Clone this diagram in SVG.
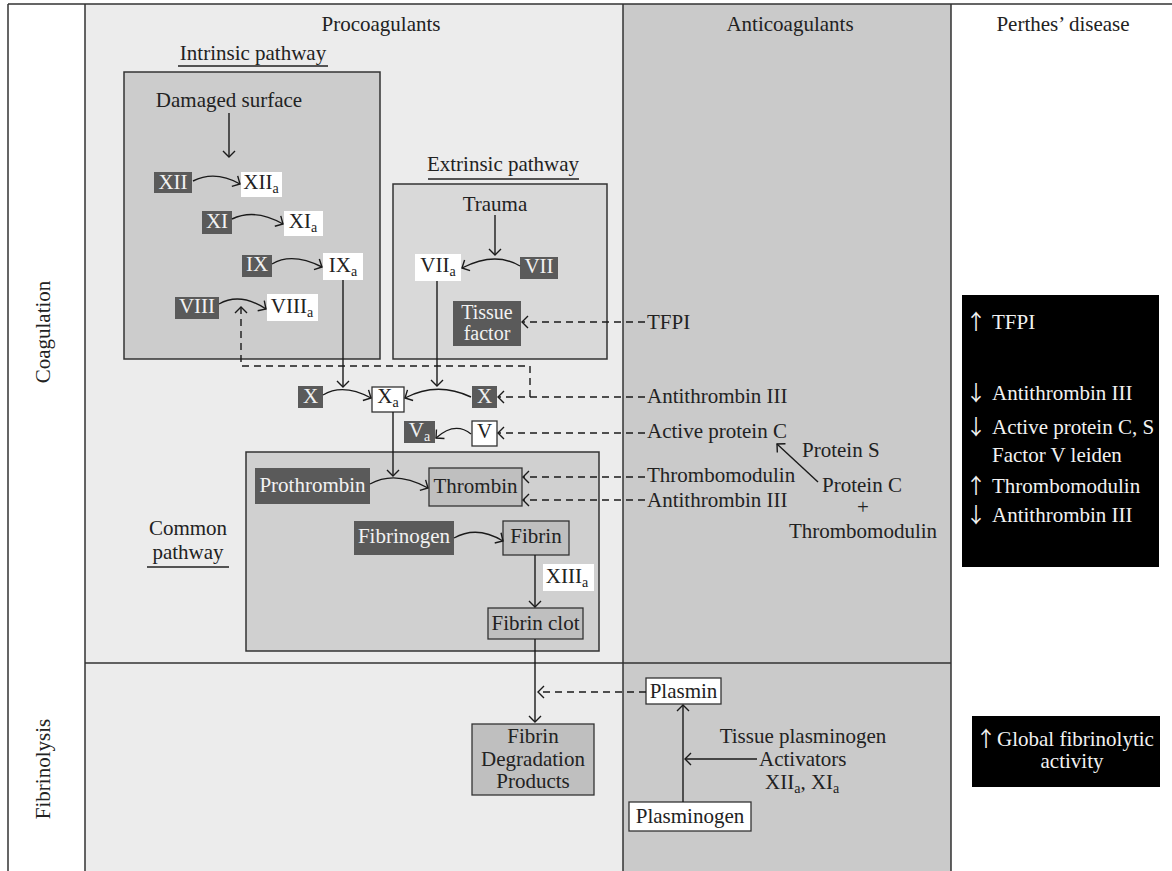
<svg xmlns="http://www.w3.org/2000/svg" width="1172" height="871" viewBox="0 0 1172 871">
<style>
.t{font-family:"Liberation Serif","Times New Roman",serif;font-size:21px;fill:#222}
.ar{font-family:"Noto Sans CJK JP","DejaVu Sans",sans-serif;font-size:21px;fill:#f2f2f2}
.w{fill:#f2f2f2}
.sub{font-size:14px}
.dk{fill:#5a5a5a}
.wn{fill:#fff}
.wb{fill:#fff;stroke:#333;stroke-width:1.3}
.gb{fill:#bfbfbf;stroke:#333;stroke-width:1.3}
.frame{stroke:#333;stroke-width:1.5;fill:none}
.c{fill:none;stroke:#1a1a1a;stroke-width:1.4}
.d{stroke-dasharray:7 5}
.u{stroke:#222;stroke-width:1.5}
</style>
<defs>
<marker id="ah" markerUnits="userSpaceOnUse" markerWidth="20" markerHeight="20" viewBox="-10 -10 20 20" refX="0" refY="0" orient="auto">
<path d="M-6,-6 L0,0 L-6,6" fill="none" stroke="#1a1a1a" stroke-width="1.4"/>
</marker>
</defs>

<g id="background">
<rect x="85" y="4" width="538" height="867" fill="#ececec"/>
<rect x="623" y="4" width="328" height="867" fill="#cacaca"/>
<path class="frame" d="M8,4 H1172 M8,4 V871 M85,4 V871 M623,4 V871 M951,4 V871 M85,663 H951"/>
<text class="t" x="381" y="31" text-anchor="middle">Procoagulants</text>
<text class="t" x="790" y="31" text-anchor="middle">Anticoagulants</text>
<text class="t" x="1063" y="31" text-anchor="middle">Perthes’ disease</text>
<text class="t" transform="translate(50,332) rotate(-90)" text-anchor="middle">Coagulation</text>
<text class="t" transform="translate(50,769) rotate(-90)" text-anchor="middle">Fibrinolysis</text>
</g>

<g id="intrinsic">
<rect x="124" y="72" width="256" height="287" fill="#cccccc" stroke="#333" stroke-width="1.5"/>
<text class="t" x="253" y="60" text-anchor="middle">Intrinsic pathway</text>
<line class="u" x1="178" y1="66" x2="328" y2="66"/>
<text class="t" x="229" y="107" text-anchor="middle">Damaged surface</text>
</g>

<g id="extrinsic">
<rect x="393" y="184" width="214" height="175" fill="#d9d9d9" stroke="#333" stroke-width="1.5"/>
<text class="t" x="503" y="171" text-anchor="middle">Extrinsic pathway</text>
<line class="u" x1="428" y1="179" x2="579" y2="179"/>
<text class="t" x="495" y="211" text-anchor="middle">Trauma</text>
</g>

<g id="common">
<rect x="246" y="452" width="353" height="199" fill="#d0d0d0" stroke="#333" stroke-width="1.5"/>
<text class="t" x="188" y="535" text-anchor="middle">Common</text>
<text class="t" x="188" y="559" text-anchor="middle">pathway</text>
<line class="u" x1="147" y1="567" x2="229" y2="567"/>
</g>

<g id="n-xii"><rect class="dk" x="154" y="172" width="38" height="21"/><text class="t w" x="173" y="189" text-anchor="middle">XII</text></g>
<g id="n-xiia"><rect class="wn" x="241" y="172" width="41" height="25"/><text class="t" x="261" y="189" text-anchor="middle">XII<tspan class="sub" dy="4">a</tspan></text></g>
<g id="n-xi"><rect class="dk" x="202" y="211" width="30" height="23"/><text class="t w" x="217" y="228" text-anchor="middle">XI</text></g>
<g id="n-xia"><rect class="wn" x="284" y="211" width="39" height="25"/><text class="t" x="303" y="228" text-anchor="middle">XI<tspan class="sub" dy="4">a</tspan></text></g>
<g id="n-ix"><rect class="dk" x="242" y="255" width="30" height="22"/><text class="t w" x="257" y="271" text-anchor="middle">IX</text></g>
<g id="n-ixa"><rect class="wn" x="323" y="253" width="40" height="27"/><text class="t" x="343" y="272" text-anchor="middle">IX<tspan class="sub" dy="4">a</tspan></text></g>
<g id="n-viii"><rect class="dk" x="175" y="297" width="44" height="22"/><text class="t w" x="197" y="313" text-anchor="middle">VIII</text></g>
<g id="n-viiia"><rect class="wn" x="267" y="294" width="51" height="27"/><text class="t" x="292" y="313" text-anchor="middle">VIII<tspan class="sub" dy="4">a</tspan></text></g>
<g id="n-viia"><rect class="wn" x="415" y="254" width="46" height="27"/><text class="t" x="438" y="272" text-anchor="middle">VII<tspan class="sub" dy="4">a</tspan></text></g>
<g id="n-vii"><rect class="dk" x="520" y="257" width="38" height="22"/><text class="t w" x="539" y="273" text-anchor="middle">VII</text></g>
<g id="n-tf"><rect class="dk" x="453" y="301" width="68" height="45"/><text class="t w" x="487" y="319" text-anchor="middle" style="font-size:20px">Tissue</text><text class="t w" x="487" y="340" text-anchor="middle" style="font-size:20px">factor</text></g>
<g id="n-x1"><rect class="dk" x="298" y="386" width="25" height="22"/><text class="t w" x="310.5" y="403" text-anchor="middle">X</text></g>
<g id="n-xa"><rect class="wb" x="372" y="387" width="32" height="25"/><text class="t" x="388" y="403" text-anchor="middle">X<tspan class="sub" dy="4">a</tspan></text></g>
<g id="n-x2"><rect class="dk" x="472" y="386" width="25" height="22"/><text class="t w" x="484.5" y="403" text-anchor="middle">X</text></g>
<g id="n-va"><rect class="dk" x="404" y="421" width="31" height="22"/><text class="t w" x="419.5" y="437" text-anchor="middle">V<tspan class="sub" dy="4">a</tspan></text></g>
<g id="n-v"><rect class="wb" x="472" y="421" width="25" height="25"/><text class="t" x="484.5" y="438" text-anchor="middle">V</text></g>
<g id="n-prothrombin"><rect class="dk" x="255" y="468" width="115" height="36"/><text class="t w" x="312.5" y="492" text-anchor="middle">Prothrombin</text></g>
<g id="n-thrombin"><rect class="gb" x="429" y="468" width="93" height="38"/><text class="t" x="475.5" y="493" text-anchor="middle">Thrombin</text></g>
<g id="n-fibrinogen"><rect class="dk" x="354" y="521" width="100" height="34"/><text class="t w" x="404" y="543" text-anchor="middle">Fibrinogen</text></g>
<g id="n-fibrin"><rect class="gb" x="503" y="521" width="66" height="34"/><text class="t" x="536" y="543" text-anchor="middle">Fibrin</text></g>
<g id="n-xiiia"><rect class="wn" x="543" y="564" width="51" height="27"/><text class="t" x="567" y="583" text-anchor="middle">XIII<tspan class="sub" dy="4">a</tspan></text></g>
<g id="n-clot"><rect class="gb" x="488" y="608" width="95" height="31"/><text class="t" x="535.5" y="630" text-anchor="middle">Fibrin clot</text></g>
<g id="n-fdp"><rect class="gb" x="472" y="724" width="122" height="71"/><text class="t" x="533" y="743" text-anchor="middle">Fibrin</text><text class="t" x="533" y="766" text-anchor="middle">Degradation</text><text class="t" x="533" y="788" text-anchor="middle">Products</text></g>
<g id="n-plasmin"><rect class="wb" x="646" y="678" width="75" height="26"/><text class="t" x="683.5" y="698" text-anchor="middle">Plasmin</text></g>
<g id="n-plasminogen"><rect class="wb" x="629" y="802" width="122" height="29"/><text class="t" x="690" y="823" text-anchor="middle">Plasminogen</text></g>

<g id="anticoagulant-labels">
<text class="t" x="647" y="329">TFPI</text>
<text class="t" x="647" y="403">Antithrombin III</text>
<text class="t" x="647" y="438">Active protein C</text>
<text class="t" x="647" y="482">Thrombomodulin</text>
<text class="t" x="647" y="507">Antithrombin III</text>
<text class="t" x="802" y="457">Protein S</text>
<text class="t" x="862" y="492" text-anchor="middle">Protein C</text>
<text class="t" x="863" y="514" text-anchor="middle">+</text>
<text class="t" x="863" y="538" text-anchor="middle">Thrombomodulin</text>
<text class="t" x="803" y="743" text-anchor="middle">Tissue plasminogen</text>
<text class="t" x="759" y="766">Activators</text>
<text class="t" x="765" y="789">XII<tspan class="sub" dy="4">a</tspan><tspan dy="-4">, XI</tspan><tspan class="sub" dy="4">a</tspan></text>
</g>

<g id="perthes-1">
<rect x="962" y="295" width="197" height="272" fill="#000"/>
<text class="ar" x="976" y="329" text-anchor="middle">↑</text><text class="t w" x="992" y="329">TFPI</text>
<text class="ar" x="976" y="400" text-anchor="middle">↓</text><text class="t w" x="992" y="400">Antithrombin III</text>
<text class="ar" x="976" y="434" text-anchor="middle">↓</text><text class="t w" x="992" y="434">Active protein C, S</text>
<text class="t w" x="992" y="462">Factor V leiden</text>
<text class="ar" x="976" y="493" text-anchor="middle">↑</text><text class="t w" x="992" y="493">Thrombomodulin</text>
<text class="ar" x="976" y="522" text-anchor="middle">↓</text><text class="t w" x="992" y="522">Antithrombin III</text>
</g>
<g id="perthes-2">
<rect x="972" y="716" width="188" height="71" fill="#000"/>
<text class="ar" x="986" y="746" text-anchor="middle">↑</text><text class="t w" x="997" y="746">Global fibrinolytic</text>
<text class="t w" x="1072" y="768" text-anchor="middle">activity</text>
</g>

<g id="connectors">
<path class="c" d="M229,113 V157" marker-end="url(#ah)"/>
<path class="c" d="M193,181 Q215,170 240,184" marker-end="url(#ah)"/>
<path class="c" d="M232,219 Q255,208 283,224" marker-end="url(#ah)"/>
<path class="c" d="M272,264 Q292,252 322,267" marker-end="url(#ah)"/>
<path class="c" d="M219,304 Q240,292 266,309" marker-end="url(#ah)"/>
<path class="c" d="M343,280 V387" marker-end="url(#ah)"/>
<path class="c" d="M323,395 Q343,383 371,398" marker-end="url(#ah)"/>
<path class="c" d="M471,397 Q437,381 405,398" marker-end="url(#ah)"/>
<path class="c" d="M495,215 V255" marker-end="url(#ah)"/>
<path class="c" d="M520,266 Q495,251 462,268" marker-end="url(#ah)"/>
<path class="c" d="M437,281 V386" marker-end="url(#ah)"/>
<path class="c" d="M471,434 Q455,421 436,438" marker-end="url(#ah)"/>
<path class="c" d="M393,412 V476" marker-end="url(#ah)"/>
<path class="c" d="M370,484 Q395,470 428,488" marker-end="url(#ah)"/>
<path class="c" d="M454,538 Q477,525 503,541" marker-end="url(#ah)"/>
<path class="c" d="M535,555 V607" marker-end="url(#ah)"/>
<path class="c" d="M535,639 V722" marker-end="url(#ah)"/>
<path class="c" d="M683,802 V705" marker-end="url(#ah)"/>
<path class="c" d="M757,759 H685" marker-end="url(#ah)"/>
<path class="c" d="M818,482 L777,444" marker-end="url(#ah)"/>
<path class="c d" d="M645,322 H522" marker-end="url(#ah)"/>
<path class="c d" d="M645,397 H498" marker-end="url(#ah)"/>
<path class="c d" d="M530,397 V366 H241 V307" marker-end="url(#ah)"/>
<path class="c d" d="M645,433 H498" marker-end="url(#ah)"/>
<path class="c d" d="M645,477 H523" marker-end="url(#ah)"/>
<path class="c d" d="M645,500 H523" marker-end="url(#ah)"/>
<path class="c d" d="M646,692 H538" marker-end="url(#ah)"/>
</g>
</svg>
